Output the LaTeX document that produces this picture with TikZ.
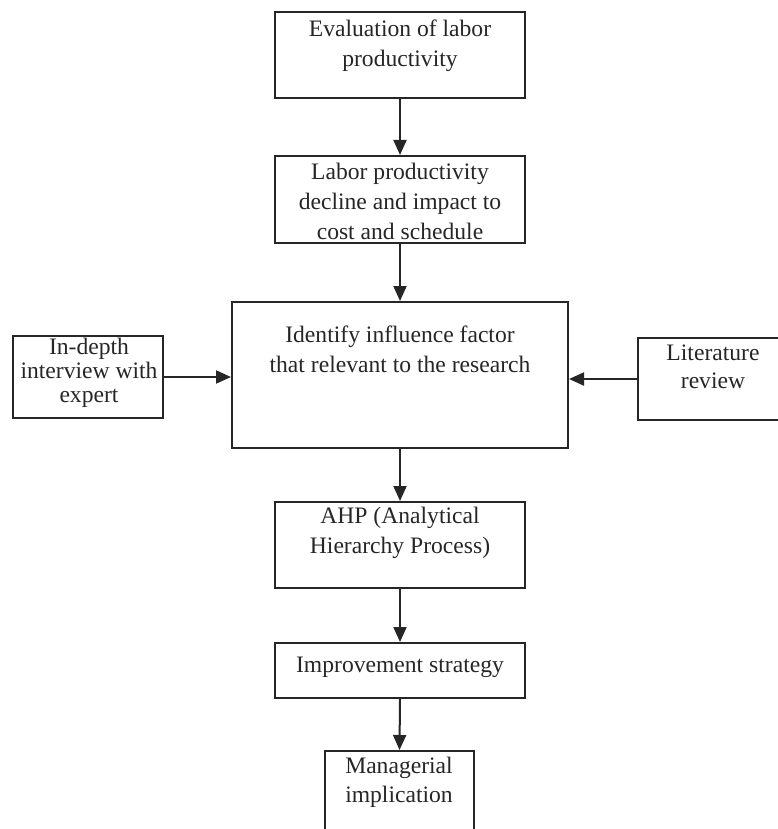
\documentclass[tikz,border=0pt]{standalone}
\usepackage{fontspec}
\setmainfont{Liberation Serif}
\usetikzlibrary{arrows.meta}
\begin{document}
\begin{tikzpicture}[x=1pt,y=-1pt,
  box/.style={draw=black!85, line width=2pt, inner sep=0pt},
  txt/.style={align=center, inner sep=0pt, text=black!85, font=\fontsize{23.6}{30}\selectfont},
  arr/.style={draw=black!85, line width=2pt, -{Triangle[length=15pt,width=13pt]}}]
\clip (0,0) rectangle (778,829);
% boxes
\node[box, minimum width=250, minimum height=86] (b1) at (400,55) {};
\node[box, minimum width=250, minimum height=87] (b2) at (400,199.5) {};
\node[box, minimum width=336, minimum height=146] (b3) at (400,375) {};
\node[box, minimum width=150, minimum height=82] (bl) at (88,377) {};
\node[box, minimum width=152, minimum height=82] (br) at (714,379) {};
\node[box, minimum width=250, minimum height=86] (b4) at (400,545) {};
\node[box, minimum width=250, minimum height=55] (b5) at (400,670.5) {};
\node[box, minimum width=149, minimum height=98] (b6) at (399.5,800) {};
% texts
\node[txt] (t1) at (400,46) {Evaluation of labor\\productivity};
\node[txt] (t2) at (400,201) {Labor productivity\\decline and impact to\\cost and schedule};
\node[txt] (t3) at (400,349) {Identify influence factor\\that relevant to the research};
\node[txt, font=\fontsize{23.6}{24}\selectfont] (tl) at (89,373) {In-depth\\interview with\\expert};
\node[txt, font=\fontsize{23.6}{28}\selectfont] (tr) at (713,367) {Literature\\review};
\node[txt] (t4) at (400,533) {AHP (Analytical\\Hierarchy Process)};
\node[txt] (t5) at (400,667) {Improvement strategy};
\node[txt, font=\fontsize{23.6}{29}\selectfont] (t6) at (399,782) {Managerial\\implication};
% connectors
\draw[arr] (b1.south) -- (b2.north);
\draw[arr] (b2.south) -- (b3.north);
\draw[arr] (b3.south) -- (b4.north);
\draw[arr] (b4.south) -- (b5.north);
\draw[arr] (b5.south) -- (b6.north);
\draw[arr] (bl.east) -- (bl.east -| b3.west);
\draw[arr] (br.west) -- (br.west -| b3.east);
\end{tikzpicture}
\end{document}
